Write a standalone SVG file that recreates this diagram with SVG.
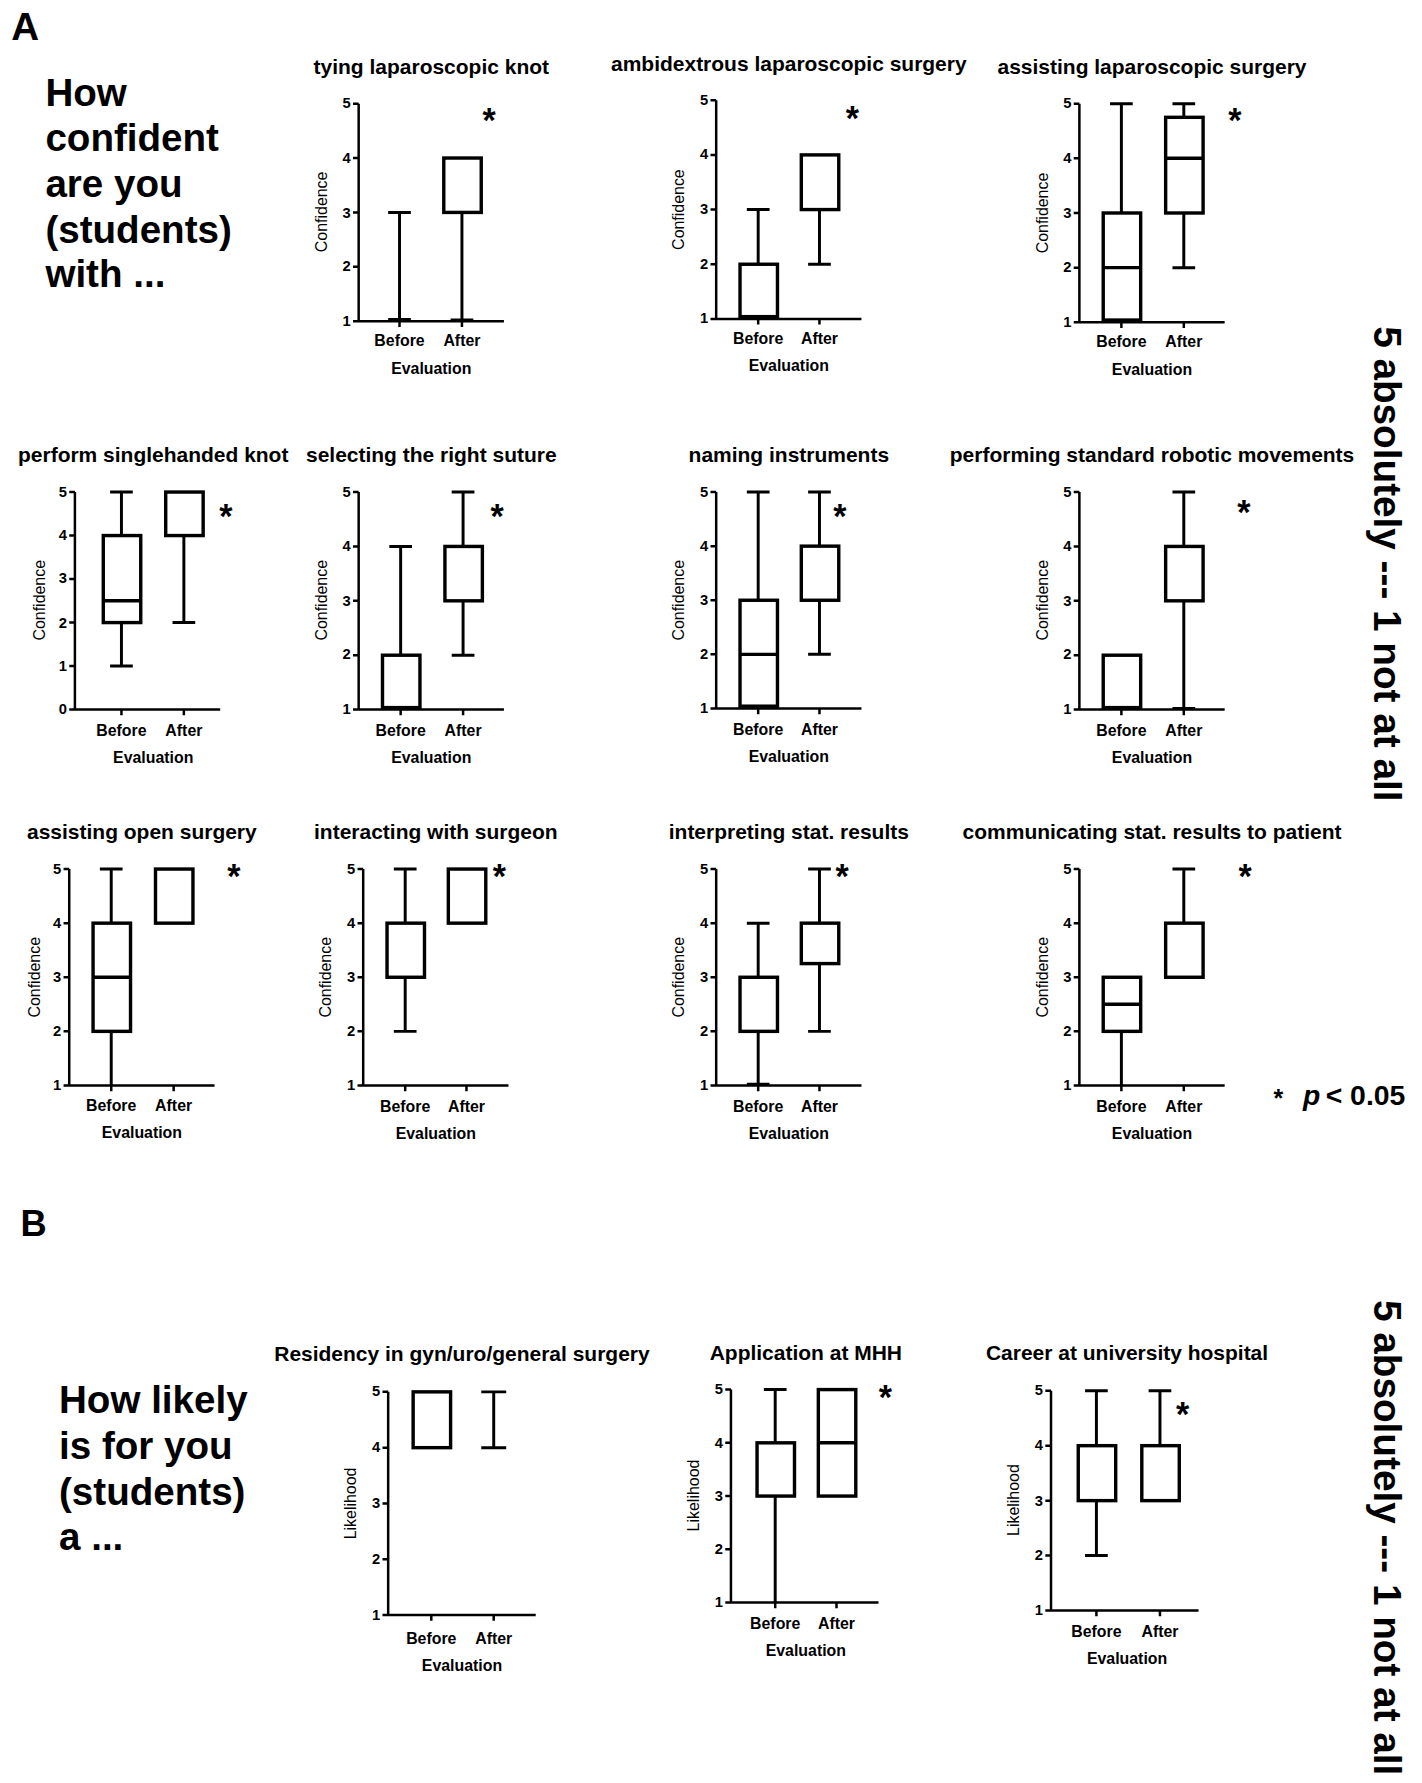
<svg xmlns="http://www.w3.org/2000/svg" width="1422" height="1783" viewBox="0 0 1422 1783">
<style>
text{font-family:"Liberation Sans",Arial,sans-serif;font-weight:bold;fill:#000}
.t{font-size:18.5px;text-anchor:middle}
.tk{font-size:13px;text-anchor:end}
.xl{font-size:14px;text-anchor:middle}
.yl{font-size:14px;text-anchor:middle;font-weight:normal}
.st{font-size:30px;text-anchor:middle}
.big{font-size:34px}
.ax{stroke:#000;stroke-width:2.2;fill:none}
.bx{stroke:#000;stroke-width:3;fill:#fff}
.wk{stroke:#000;stroke-width:2.6;fill:none}
</style>
<rect width="1422" height="1783" fill="#fff"/>
<g transform="scale(1.135,1.139)">
<g id="labels">
<text x="10" y="35" style="font-size:34px">A</text>
<text x="18" y="1085" style="font-size:32px">B</text>
<text class="big" x="40"><tspan x="40" y="93">How</tspan><tspan x="40" y="133">confident</tspan><tspan x="40" y="173">are you</tspan><tspan x="40" y="213">(students)</tspan><tspan x="40" y="252">with ...</tspan></text>
<text class="big" x="52"><tspan x="52" y="1241">How likely</tspan><tspan x="52" y="1281">is for you</tspan><tspan x="52" y="1321">(students)</tspan><tspan x="52" y="1361">a ...</tspan></text>
<text transform="translate(1211,495) rotate(90)" style="font-size:34px;text-anchor:middle">5 absolutely --- 1 not at all</text>
<text transform="translate(1211,1350) rotate(90)" style="font-size:34px;text-anchor:middle">5 absolutely --- 1 not at all</text>
<text x="1122" y="972" style="font-size:22px">*</text>
<text x="1148" y="970" style="font-size:25px;font-style:italic">p</text>
<text x="1168" y="970" style="font-size:25px">&lt; 0.05</text>
</g>

<g id="c1">
<text class="t" x="380" y="65">tying laparoscopic knot</text>
<path class="ax" d="M316 91V282H444M311 91H316M311 138.75H316M311 186.5H316M311 234.25H316M311 282H316M352 282V287M407 282V287"/>
<text class="tk" x="309" y="95">5</text><text class="tk" x="309" y="143">4</text><text class="tk" x="309" y="191">3</text><text class="tk" x="309" y="238">2</text><text class="tk" x="309" y="286">1</text>
<text class="yl" transform="translate(288,186) rotate(-90)">Confidence</text>
<path class="wk" d="M352 186.5V280M342 186.5H362M342 280.5H362M407 186.5V281M397 281H417"/>
<rect class="bx" x="391" y="138.75" width="33" height="47.75"/>
<text class="xl" x="352" y="304">Before</text><text class="xl" x="407" y="304">After</text><text class="xl" x="380" y="328">Evaluation</text>
<text class="st" x="431" y="116">*</text>
</g>
<g id="c2">
<text class="t" x="695" y="62">ambidextrous laparoscopic surgery</text>
<path class="ax" d="M631 88V280H759M626 88H631M626 136H631M626 184H631M626 232H631M626 280H631M668 280V285M722 280V285"/>
<text class="tk" x="624" y="92">5</text><text class="tk" x="624" y="140">4</text><text class="tk" x="624" y="188">3</text><text class="tk" x="624" y="236">2</text><text class="tk" x="624" y="284">1</text>
<text class="yl" transform="translate(603,184) rotate(-90)">Confidence</text>
<path class="wk" d="M668 184V232M658 184H678M722 184V232M712 232H732"/>
<rect class="bx" x="652" y="232" width="33" height="46"/>
<rect class="bx" x="706" y="136" width="33" height="48"/>
<text class="xl" x="668" y="302">Before</text><text class="xl" x="722" y="302">After</text><text class="xl" x="695" y="326">Evaluation</text>
<text class="st" x="751" y="114">*</text>
</g>
<g id="c3">
<text class="t" x="1015" y="65">assisting laparoscopic surgery</text>
<path class="ax" d="M951 91V283H1079M946 91H951M946 139H951M946 187H951M946 235H951M946 283H951M988 283V288M1043 283V288"/>
<text class="tk" x="944" y="95">5</text><text class="tk" x="944" y="143">4</text><text class="tk" x="944" y="191">3</text><text class="tk" x="944" y="239">2</text><text class="tk" x="944" y="287">1</text>
<text class="yl" transform="translate(923,187) rotate(-90)">Confidence</text>
<path class="wk" d="M988 91V187M978 91H998M1043 91V103M1033 91H1053M1043 187V235M1033 235H1053"/>
<rect class="bx" x="972" y="187" width="33" height="94"/>
<path class="bx" d="M972 235H1005"/>
<rect class="bx" x="1027" y="103" width="33" height="84"/>
<path class="bx" d="M1027 139H1060"/>
<text class="xl" x="988" y="305">Before</text><text class="xl" x="1043" y="305">After</text><text class="xl" x="1015" y="329">Evaluation</text>
<text class="st" x="1088" y="116">*</text>
</g>
<g id="c4">
<text class="t" x="135" y="406">perform singlehanded knot</text>
<path class="ax" d="M66 432V623H194M61 432H66M61 470.2H66M61 508.4H66M61 546.6H66M61 584.8H66M61 623H66M107 623V628M162 623V628"/>
<text class="tk" x="59" y="436">5</text><text class="tk" x="59" y="474">4</text><text class="tk" x="59" y="512">3</text><text class="tk" x="59" y="551">2</text><text class="tk" x="59" y="589">1</text><text class="tk" x="59" y="627">0</text>
<text class="yl" transform="translate(40,527) rotate(-90)">Confidence</text>
<path class="wk" d="M107 432V470.2M97 432H117M107 546.6V584.8M97 584.8H117M162 470.2V546.6M152 546.6H172"/>
<rect class="bx" x="91" y="470.2" width="33" height="76.4"/>
<path class="bx" d="M91 527.5H124"/>
<rect class="bx" x="146" y="432" width="33" height="38.2"/>
<text class="xl" x="107" y="646">Before</text><text class="xl" x="162" y="646">After</text><text class="xl" x="135" y="670">Evaluation</text>
<text class="st" x="199" y="464">*</text>
</g>
<g id="c5">
<text class="t" x="380" y="406">selecting the right suture</text>
<path class="ax" d="M316 432V623H444M311 432H316M311 479.75H316M311 527.5H316M311 575.25H316M311 623H316M353 623V628M408 623V628"/>
<text class="tk" x="309" y="436">5</text><text class="tk" x="309" y="484">4</text><text class="tk" x="309" y="532">3</text><text class="tk" x="309" y="579">2</text><text class="tk" x="309" y="627">1</text>
<text class="yl" transform="translate(288,527) rotate(-90)">Confidence</text>
<path class="wk" d="M353 479.75V575.25M343 479.75H363M408 432V479.75M398 432H418M408 527.5V575.25M398 575.25H418"/>
<rect class="bx" x="337" y="575.25" width="33" height="46"/>
<rect class="bx" x="392" y="479.75" width="33" height="47.75"/>
<text class="xl" x="353" y="646">Before</text><text class="xl" x="408" y="646">After</text><text class="xl" x="380" y="670">Evaluation</text>
<text class="st" x="438" y="464">*</text>
</g>
<g id="c6">
<text class="t" x="695" y="406">naming instruments</text>
<path class="ax" d="M631 432V622H759M626 432H631M626 479.5H631M626 527H631M626 574.5H631M626 622H631M668 622V627M722 622V627"/>
<text class="tk" x="624" y="436">5</text><text class="tk" x="624" y="484">4</text><text class="tk" x="624" y="531">3</text><text class="tk" x="624" y="579">2</text><text class="tk" x="624" y="626">1</text>
<text class="yl" transform="translate(603,527) rotate(-90)">Confidence</text>
<path class="wk" d="M668 432V527M658 432H678M722 432V479.5M712 432H732M722 527V574.5M712 574.5H732"/>
<rect class="bx" x="652" y="527" width="33" height="93"/>
<path class="bx" d="M652 574.5H685"/>
<rect class="bx" x="706" y="479.5" width="33" height="47.5"/>
<text class="xl" x="668" y="645">Before</text><text class="xl" x="722" y="645">After</text><text class="xl" x="695" y="669">Evaluation</text>
<text class="st" x="740" y="464">*</text>
</g>
<g id="c7">
<text class="t" x="1015" y="406">performing standard robotic movements</text>
<path class="ax" d="M951 432V623H1079M946 432H951M946 479.75H951M946 527.5H951M946 575.25H951M946 623H951M988 623V628M1043 623V628"/>
<text class="tk" x="944" y="436">5</text><text class="tk" x="944" y="484">4</text><text class="tk" x="944" y="532">3</text><text class="tk" x="944" y="579">2</text><text class="tk" x="944" y="627">1</text>
<text class="yl" transform="translate(923,527) rotate(-90)">Confidence</text>
<path class="wk" d="M1043 432V479.75M1033 432H1053M1043 527.5V621M1033 622H1053"/>
<rect class="bx" x="972" y="575.25" width="33" height="46"/>
<rect class="bx" x="1027" y="479.75" width="33" height="47.75"/>
<text class="xl" x="988" y="646">Before</text><text class="xl" x="1043" y="646">After</text><text class="xl" x="1015" y="670">Evaluation</text>
<text class="st" x="1096" y="460">*</text>
</g>
<g id="c8">
<text class="t" x="125" y="737">assisting open surgery</text>
<path class="ax" d="M61 763V953H189M56 763H61M56 810.5H61M56 858H61M56 905.5H61M56 953H61M98 953V958M153 953V958"/>
<text class="tk" x="54" y="767">5</text><text class="tk" x="54" y="815">4</text><text class="tk" x="54" y="862">3</text><text class="tk" x="54" y="910">2</text><text class="tk" x="54" y="957">1</text>
<text class="yl" transform="translate(35,858) rotate(-90)">Confidence</text>
<path class="wk" d="M98 763V810.5M88 763H108M98 905.5V953"/>
<rect class="bx" x="82" y="810.5" width="33" height="95"/>
<path class="bx" d="M82 858H115"/>
<rect class="bx" x="137" y="763" width="33" height="47.5"/>
<text class="xl" x="98" y="975">Before</text><text class="xl" x="153" y="975">After</text><text class="xl" x="125" y="999">Evaluation</text>
<text class="st" x="206" y="780">*</text>
</g>
<g id="c9">
<text class="t" x="384" y="737">interacting with surgeon</text>
<path class="ax" d="M320 763V953H448M315 763H320M315 810.5H320M315 858H320M315 905.5H320M315 953H320M357 953V958M411 953V958"/>
<text class="tk" x="313" y="767">5</text><text class="tk" x="313" y="815">4</text><text class="tk" x="313" y="862">3</text><text class="tk" x="313" y="910">2</text><text class="tk" x="313" y="957">1</text>
<text class="yl" transform="translate(292,858) rotate(-90)">Confidence</text>
<path class="wk" d="M357 763V810.5M347 763H367M357 858V905.5M347 905.5H367"/>
<rect class="bx" x="341" y="810.5" width="33" height="47.5"/>
<rect class="bx" x="395" y="763" width="33" height="47.5"/>
<text class="xl" x="357" y="976">Before</text><text class="xl" x="411" y="976">After</text><text class="xl" x="384" y="1000">Evaluation</text>
<text class="st" x="440" y="780">*</text>
</g>
<g id="c10">
<text class="t" x="695" y="737">interpreting stat. results</text>
<path class="ax" d="M631 763V953H759M626 763H631M626 810.5H631M626 858H631M626 905.5H631M626 953H631M668 953V958M722 953V958"/>
<text class="tk" x="624" y="767">5</text><text class="tk" x="624" y="815">4</text><text class="tk" x="624" y="862">3</text><text class="tk" x="624" y="910">2</text><text class="tk" x="624" y="957">1</text>
<text class="yl" transform="translate(603,858) rotate(-90)">Confidence</text>
<path class="wk" d="M668 810.5V858M658 810.5H678M668 905.5V952M658 952H678M722 763V810.5M712 763H732M722 846V905.5M712 905.5H732"/>
<rect class="bx" x="652" y="858" width="33" height="47.5"/>
<rect class="bx" x="706" y="810.5" width="33" height="35.5"/>
<text class="xl" x="668" y="976">Before</text><text class="xl" x="722" y="976">After</text><text class="xl" x="695" y="1000">Evaluation</text>
<text class="st" x="742" y="780">*</text>
</g>
<g id="c11">
<text class="t" x="1015" y="737">communicating stat. results to patient</text>
<path class="ax" d="M951 763V953H1079M946 763H951M946 810.5H951M946 858H951M946 905.5H951M946 953H951M988 953V958M1043 953V958"/>
<text class="tk" x="944" y="767">5</text><text class="tk" x="944" y="815">4</text><text class="tk" x="944" y="862">3</text><text class="tk" x="944" y="910">2</text><text class="tk" x="944" y="957">1</text>
<text class="yl" transform="translate(923,858) rotate(-90)">Confidence</text>
<path class="wk" d="M988 905.5V953M1043 763V810.5M1033 763H1053"/>
<rect class="bx" x="972" y="858" width="33" height="47.5"/>
<path class="bx" d="M972 881.75H1005"/>
<rect class="bx" x="1027" y="810.5" width="33" height="47.5"/>
<text class="xl" x="988" y="976">Before</text><text class="xl" x="1043" y="976">After</text><text class="xl" x="1015" y="1000">Evaluation</text>
<text class="st" x="1097" y="780">*</text>
</g>
<g id="c12">
<text class="t" x="407" y="1195">Residency in gyn/uro/general surgery</text>
<path class="ax" d="M342 1222V1418H472M337 1222H342M337 1271H342M337 1320H342M337 1369H342M337 1418H342M380 1418V1423M435 1418V1423"/>
<text class="tk" x="335" y="1226">5</text><text class="tk" x="335" y="1275">4</text><text class="tk" x="335" y="1324">3</text><text class="tk" x="335" y="1373">2</text><text class="tk" x="335" y="1422">1</text>
<text class="yl" transform="translate(314,1320) rotate(-90)">Likelihood</text>
<rect class="bx" x="364" y="1222" width="33" height="49"/>
<path class="wk" d="M435 1222V1271M424 1222H446M424 1271H446"/>
<text class="xl" x="380" y="1443">Before</text><text class="xl" x="435" y="1443">After</text><text class="xl" x="407" y="1467">Evaluation</text>
</g>
<g id="c13">
<text class="t" x="710" y="1194">Application at MHH</text>
<path class="ax" d="M644 1220V1407H774M639 1220H644M639 1266.75H644M639 1313.5H644M639 1360.25H644M639 1407H644M683 1407V1412M737 1407V1412"/>
<text class="tk" x="637" y="1224">5</text><text class="tk" x="637" y="1271">4</text><text class="tk" x="637" y="1318">3</text><text class="tk" x="637" y="1364">2</text><text class="tk" x="637" y="1411">1</text>
<text class="yl" transform="translate(616,1313) rotate(-90)">Likelihood</text>
<path class="wk" d="M683 1220V1266.75M673 1220H693M683 1313.5V1407"/>
<rect class="bx" x="667" y="1266.75" width="33" height="46.75"/>
<rect class="bx" x="721" y="1220" width="33" height="93.5"/>
<path class="bx" d="M721 1266.75H754"/>
<text class="xl" x="683" y="1430">Before</text><text class="xl" x="737" y="1430">After</text><text class="xl" x="710" y="1454">Evaluation</text>
<text class="st" x="780" y="1237">*</text>
</g>
<g id="c14">
<text class="t" x="993" y="1194">Career at university hospital</text>
<path class="ax" d="M926 1221V1414H1056M921 1221H926M921 1269.25H926M921 1317.5H926M921 1365.75H926M921 1414H926M966 1414V1419M1022 1414V1419"/>
<text class="tk" x="919" y="1225">5</text><text class="tk" x="919" y="1273">4</text><text class="tk" x="919" y="1322">3</text><text class="tk" x="919" y="1370">2</text><text class="tk" x="919" y="1418">1</text>
<text class="yl" transform="translate(898,1317) rotate(-90)">Likelihood</text>
<path class="wk" d="M966 1221V1269.25M956 1221H976M966 1317.5V1365.75M956 1365.75H976M1022 1221V1269.25M1012 1221H1032"/>
<rect class="bx" x="950" y="1269.25" width="33" height="48.25"/>
<rect class="bx" x="1006" y="1269.25" width="33" height="48.25"/>
<text class="xl" x="966" y="1437">Before</text><text class="xl" x="1022" y="1437">After</text><text class="xl" x="993" y="1461">Evaluation</text>
<text class="st" x="1042" y="1252">*</text>
</g>
</g>
</svg>
